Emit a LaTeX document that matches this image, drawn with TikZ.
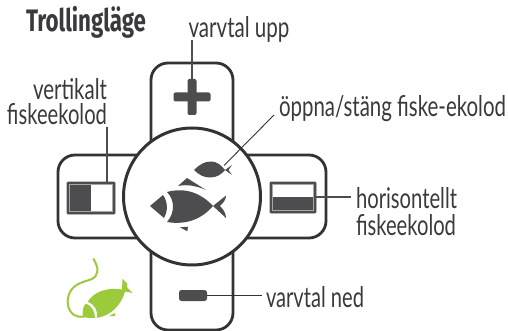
\documentclass[tikz,border=0pt]{standalone}
\usepackage{fontspec}
\usepackage{graphicx}
\setmainfont{Lato}
\newfontfamily\headfont{Fira Sans}[BoldFont=* Bold]
\definecolor{ink}{HTML}{3A3A3C}
\definecolor{shape}{HTML}{4D4D4F}
\definecolor{edge}{HTML}{333335}
\definecolor{leaf}{HTML}{9BCB3B}
\newsavebox{\fitbox}
\newcommand{\fitw}[2]{\sbox{\fitbox}{#2}\pgfmathsetmacro{\fitr}{#1/\the\wd\fitbox}\scalebox{\fitr}[1.12]{\usebox{\fitbox}}}
\newcommand{\fith}[2]{\sbox{\fitbox}{#2}\pgfmathsetmacro{\fitr}{#1/\the\wd\fitbox}\scalebox{\fitr}[1.15]{\usebox{\fitbox}}}
\tikzset{
 bar/.style={draw=edge,line width=2.8pt,rounded corners=17pt,fill=white,inner sep=0pt,outer sep=0pt},
 lab/.style={anchor=base west,inner sep=0pt,outer sep=0pt,text=ink,font=\fontsize{25.5}{26}\selectfont},
 labr/.style={lab,anchor=base east},
 lead/.style={draw=shape,line width=1.2pt},
 thin lead/.style={draw=edge,line width=.9pt},
 glyph/.style={fill=shape,draw=none},
 swframe/.style={fill=shape,draw=shape,line width=.6pt,rounded corners=.8pt,inner sep=0pt,outer sep=0pt},
 swline/.style={draw=gray!70,line width=.7pt,fill=none},
}
\begin{document}
\begin{tikzpicture}[x=1pt,y=-1pt]
\useasboundingbox (0,0) rectangle (508,331);
\node[bar,minimum width=82pt,minimum height=267pt] (vbar) at (192,196.5) {};
\node[bar,minimum width=268pt,minimum height=83pt] (hbar) at (192,196.5) {};
\node[circle,draw=edge,line width=3pt,fill=white,minimum size=137pt,inner sep=0pt,outer sep=0pt] (hub) at (192,196.5) {};
% plus and minus
\node[glyph,rounded corners=2pt,minimum width=37pt,minimum height=9pt,inner sep=0pt] (plus) at (192,97) {};
\node[glyph,rounded corners=2pt,minimum width=9pt,minimum height=36pt,inner sep=0pt] (plusv) at (192,97) {};
\node[glyph,rounded corners=2.5pt,minimum width=28pt,minimum height=11pt,inner sep=0pt] (minus) at (193,295.5) {};
% switches
\node[swframe,minimum width=48pt,minimum height=32pt] (swl) at (91,198) {};
\fill[white] (91,185) rectangle (112,211);
\draw[swline] (69.5,184.5) rectangle (112.5,211.5);
\node[swframe,minimum width=46pt,minimum height=31pt] (swr) at (293,197.5) {};
\fill[white] (273,185) rectangle (313,197);
\draw[swline] (272.5,184.5) rectangle (313.5,210.5);
% big fish
\path[glyph] (150,206) -- (163,195) .. controls (168,202) and (168,211) .. (164,218) -- cycle;
\path[glyph] (167,192) .. controls (185,187) and (201,193) .. (213,206) -- (226,195.5) .. controls (226,200) and (223,203) .. (220,206) .. controls (223,209) and (226,213) .. (226,218) -- (213,206) .. controls (201,220) and (185,225) .. (167,222) .. controls (175,213) and (175,200) .. (167,192) -- cycle;
\path[glyph] (178,186) -- (187,178) -- (206,190) .. controls (197,186) and (187,184) .. (178,186) -- cycle;
\path[glyph] (180,227.3) -- (188,226.7) -- (187.3,231.3) -- cycle;
% small fish
\path[glyph] (194,170) .. controls (200,164) and (205,161.5) .. (211,161.5) .. controls (217,161.5) and (221,165) .. (225,170) -- (232,165) -- (228.5,170) -- (232,175) -- (225,170) .. controls (221,175) and (216,177.5) .. (210,177.5) .. controls (204,177.5) and (199,175) .. (194,170) -- cycle;
% labels
\node[lab,font=\fontsize{27}{28}\selectfont\headfont\bfseries] (title) at (26,31.5) {\fith{120}{Trollingläge}};
\node[lab] (lup) at (188.5,38) {\fitw{101}{varvtal upp}};
\node[lab] (lopen) at (279,117) {\fitw{227}{öppna/stäng fiske-ekolod}};
\node[labr] (lv1) at (107,100) {\fitw{74}{vertikalt}};
\node[labr] (lv2) at (107,125) {\fitw{100}{fiskeekolod}};
\node[lab] (lh1) at (356,208) {\fitw{101}{horisontellt}};
\node[lab] (lh2) at (356,235) {\fitw{100}{fiskeekolod}};
\node[lab] (ldn) at (266,307) {\fitw{98}{varvtal ned}};
% connectors
\draw[lead] (192,40) -- (plusv.north);
\draw[lead] (107,127) -- (107,182);
\coordinate (hend) at (351,197);
\draw[lead] (314,197) -- (hend);
\draw[thin lead] (minus.east) -- (262,295.5);
\draw[white,line width=1.6pt] (223,166) -- (228,161);
\draw[thin lead] (224,165.5) -- (274,115);
% green mouse fish
\path[fill=leaf] (87.7,301.7) .. controls (94,292) and (106,287) .. (122,289.5) -- (122.5,279) -- (127,283.5) -- (127.5,288) -- (132.7,293) -- (125,291.5) .. controls (122,303) and (112,316) .. (96.7,317.8) .. controls (98,310) and (95,305) .. (87.7,301.7) -- cycle;
\path[fill=leaf] (83,317) .. controls (82,311) and (83,306) .. (86,303.5) .. controls (92,306) and (95,312) .. (95,318) .. controls (91,318) and (87,318) .. (83,317) -- cycle;
\path[fill=leaf] (109,316) -- (115,313) -- (115,316) -- cycle;
\draw[leaf,line width=2pt,line cap=round] (93.5,259) .. controls (99,268) and (99,275) .. (92,279) .. controls (84,282) and (75,283) .. (70,292) .. controls (66,300) and (67,310) .. (74,315) .. controls (77,317) and (80,317) .. (84,316.5);
\end{tikzpicture}
\end{document}
